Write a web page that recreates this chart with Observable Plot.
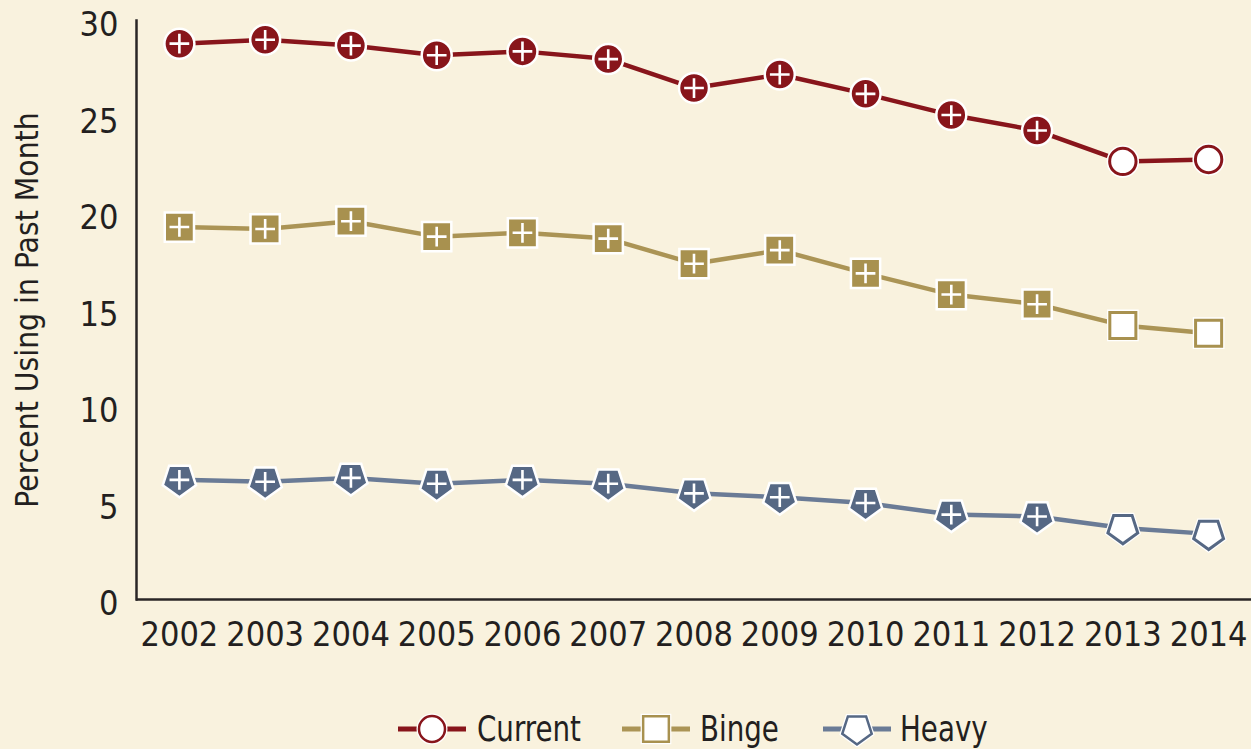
<!DOCTYPE html>
<html>
<head>
<meta charset="utf-8">
<script src="https://cdn.jsdelivr.net/npm/d3@7"></script>
<script src="https://cdn.jsdelivr.net/npm/@observablehq/plot@0.6"></script>
<style>
  html, body { margin: 0; padding: 0; background: #f9f2de; }
  #wrap { position: relative; width: 1251px; height: 749px; background: #f9f2de; overflow: hidden;
          font-family: "DejaVu Sans Condensed", "Liberation Sans Narrow", sans-serif; color: #231f20; }
  .item { position: absolute; top: 711px; height: 36px; }
  .item svg { position: absolute; left: 0; top: 0; }
  .item span { position: absolute; top: 0px; font-size: 35px; line-height: 36px; white-space: nowrap; transform: scaleX(0.88); transform-origin: left center; }
</style>
</head>
<body>
<div id="wrap">
  <div id="chart"></div>
  <div id="legend"></div>
</div>
<script>
// ---- data ----
const years = [2002, 2003, 2004, 2005, 2006, 2007, 2008, 2009, 2010, 2011, 2012, 2013, 2014];
const seriesNames = ["Current", "Binge", "Heavy"];
const currentValues = [28.8, 29.0, 28.7, 28.2, 28.4, 28.0, 26.5, 27.2, 26.2, 25.1, 24.3, 22.7, 22.8];
const bingeValues   = [19.3, 19.2, 19.6, 18.8, 19.0, 18.7, 17.4, 18.1, 16.9, 15.8, 15.3, 14.2, 13.8];
const heavyValues   = [6.2, 6.1, 6.3, 6.0, 6.2, 6.0, 5.5, 5.3, 5.0, 4.4, 4.3, 3.7, 3.4];
// significant difference from 2014 estimate (+)
const significant = [true, true, true, true, true, true, true, true, true, true, true, false, false];
const yTicks = [0, 5, 10, 15, 20, 25, 30];
const yLabel = "Percent Using in Past Month";

const seriesColors = ["#88151b", "#a8914f", "#566884"];
const lineColors   = ["#88151b", "#ab9455", "#6a7b96"];

const pentagon = {
  draw(ctx, size) {
    const R = Math.sqrt(size / Math.PI);
    for (let k = 0; k < 5; k++) {
      const a = (90 + k * 72) * Math.PI / 180;
      const x = R * Math.cos(a), y = R * Math.sin(a);
      if (k === 0) ctx.moveTo(x, y); else ctx.lineTo(x, y);
    }
    ctx.closePath();
  }
};
const symbols = ["circle", "square", pentagon];
const radii = [15, 16.5, 17.5];

const allValues = [currentValues, bingeValues, heavyValues];
const rows = seriesNames.flatMap((s, i) =>
  years.map((y, j) => ({ series: s, year: String(y), value: allValues[i][j], sig: significant[j] })));

const marks = [
  Plot.ruleY([0], { stroke: "#2a2626", strokeWidth: 2.5 }),
  Plot.frame({ anchor: "left", stroke: "#2a2626", strokeWidth: 2.5 }),
];
seriesNames.forEach((s, i) => {
  const d = rows.filter(r => r.series === s);
  marks.push(Plot.line(d, { x: "year", y: "value", stroke: lineColors[i], strokeWidth: 4.5 }));
  marks.push(Plot.dot(d.filter(r => r.sig), { x: "year", y: "value", symbol: symbols[i], r: radii[i], fill: seriesColors[i], stroke: "white", strokeWidth: 2.5 }));
  marks.push(Plot.dot(d.filter(r => !r.sig), { x: "year", y: "value", symbol: symbols[i], r: radii[i], fill: "white", stroke: "white", strokeWidth: 2.5 }));
  marks.push(Plot.dot(d.filter(r => !r.sig), { x: "year", y: "value", symbol: symbols[i], r: radii[i] - 1.8, fill: "white", stroke: seriesColors[i], strokeWidth: 3 }));
  marks.push(Plot.dot(d.filter(r => r.sig), { x: "year", y: "value", symbol: "plus", r: 6.4, stroke: "white", strokeWidth: 2.6 }));
});

const chart = Plot.plot({
  width: 1251,
  height: 690,
  marginLeft: 136,
  marginRight: 0,
  marginTop: 20,
  marginBottom: 91,
  style: { background: "transparent", fontFamily: '"DejaVu Sans Condensed", "Liberation Sans Narrow", sans-serif', color: "#231f20", overflow: "visible" },
  x: { type: "point", domain: years.map(String), padding: 0.5, round: false },
  y: { domain: [0, 30] },
  marks: [
    Plot.axisY(yTicks, { tickSize: 0, tickPadding: 18, fontSize: 34, dy: 5, label: yLabel, labelAnchor: "center", labelOffset: 121 }),
    Plot.axisX({ tickSize: 0, tickPadding: 22, fontSize: 34, label: null }),
    ...marks
  ]
});
chart.querySelectorAll("[aria-label='y-axis label'] text").forEach(t => { t.textContent = yLabel; t.style.fontSize = "31.5px"; });
document.getElementById("chart").appendChild(chart);

// ---- legend ----
const legend = document.getElementById("legend");
const itemLeft = [398, 622, 823];
const swatchWidth = [68, 68, 68];
const textOffset = [79, 78, 77];
seriesNames.forEach((s, i) => {
  const item = document.createElement("div");
  item.className = "item";
  item.style.left = itemLeft[i] + "px";
  const w = swatchWidth[i];
  const svg = d3.create("svg").attr("width", w).attr("height", 36);
  svg.append("line").attr("x1", 0).attr("x2", w).attr("y1", 18).attr("y2", 18).attr("stroke", lineColors[i]).attr("stroke-width", 5);
  const sym = typeof symbols[i] === "string" ? (symbols[i] === "circle" ? d3.symbolCircle : d3.symbolSquare) : symbols[i];
  const rr = radii[i] - 2;
  svg.append("path").attr("transform", `translate(${w / 2},18)`).attr("d", d3.symbol(sym, rr * rr * Math.PI)())
     .attr("fill", "white").attr("stroke", "white").attr("stroke-width", 5);
  svg.append("path").attr("transform", `translate(${w / 2},18)`).attr("d", d3.symbol(sym, rr * rr * Math.PI)())
     .attr("fill", "white").attr("stroke", seriesColors[i]).attr("stroke-width", 2.5);
  item.appendChild(svg.node());
  const label = document.createElement("span");
  label.style.left = textOffset[i] + "px";
  label.textContent = s;
  item.appendChild(label);
  legend.appendChild(item);
});
</script>
</body>
</html>
